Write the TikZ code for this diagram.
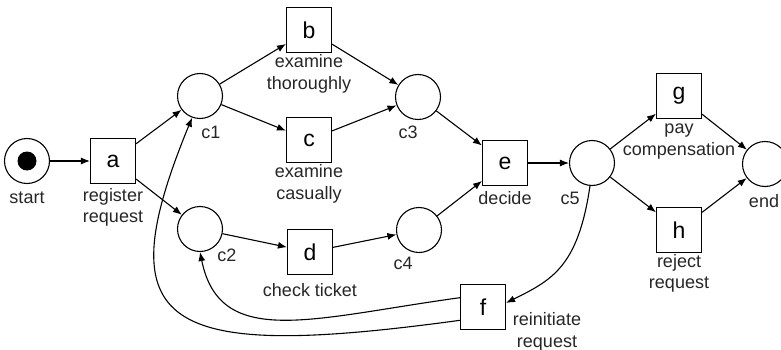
\documentclass[tikz,border=0pt]{standalone}
\usepackage{fontspec}
\setmainfont{Liberation Sans}
\usetikzlibrary{arrows.meta}
\begin{document}
\begin{tikzpicture}[x=1pt,y=-1pt,
  place/.style={circle,draw,line width=1.1pt,minimum size=45pt,inner sep=0pt},
  trans/.style={rectangle,draw,line width=1.1pt,minimum size=45pt,inner sep=0pt,
                font=\fontsize{23}{27}\selectfont},
  token/.style={circle,fill,minimum size=19pt,inner sep=0pt},
  lbl/.style={align=center,inner sep=0pt,text=black!85,font=\fontsize{18}{21.5}\selectfont},
  arc/.style={line width=1.1pt,-{Latex[length=9pt,width=7pt]}}]
\useasboundingbox (0,0) rectangle (781,350);

% places
\node[place] (start) at (27,161) {};
\node[token] (tok) at (start.center) {};
\node[place] (c1) at (200,96) {};
\node[place] (c2) at (200,229) {};
\node[place] (c3) at (418,97) {};
\node[place] (c4) at (419,230) {};
\node[place] (c5) at (592,163) {};
\node[place] (end) at (765,164) {};

% transitions
\node[trans] (a) at (113,161) {a};
\node[trans] (b) at (309,30) {b};
\node[trans] (c) at (309,140) {c};
\node[trans] (d) at (310,252) {d};
\node[trans] (e) at (505,163) {e};
\node[trans] (f) at (483,307) {f};
\node[trans] (g) at (679,96) {g};
\node[trans] (h) at (679,230) {h};

% labels
\node[lbl] (lstart) at (27,198) {start};
\node[lbl] (la) at (113,207.5) {register\\request};
\node[lbl] (lc1) at (211,132) {c1};
\node[lbl] (lb) at (309,74) {examine\\thoroughly};
\node[lbl] (lc) at (309,184) {examine\\casually};
\node[lbl] (lc2) at (227,255) {c2};
\node[lbl] (ld) at (310,290) {check ticket};
\node[lbl] (lc3) at (408,132) {c3};
\node[lbl] (lc4) at (403,263) {c4};
\node[lbl] (le) at (505,198) {decide};
\node[lbl] (lc5) at (570,198) {c5};
\node[lbl] (lf) at (547,332) {reinitiate\\request};
\node[lbl] (lg) at (679,141.5) {pay\\compensation};
\node[lbl] (lh) at (679,273.5) {reject\\request};
\node[lbl] (lend) at (764,201) {end};

% arcs
\draw[arc] (start) -- (a);
\draw[arc] (a) -- (c1);
\draw[arc] (a) -- (c2);
\draw[arc] (c1) -- (b);
\draw[arc] (c1) -- (c);
\draw[arc] (c2) -- (d);
\draw[arc] (b) -- (c3);
\draw[arc] (c) -- (c3);
\draw[arc] (d) -- (c4);
\draw[arc] (c3) -- (e);
\draw[arc] (c4) -- (e);
\draw[arc] (e) -- (c5);
\draw[arc] (c5) -- (g);
\draw[arc] (c5) -- (h);
\draw[arc] (g) -- (end);
\draw[arc] (h) -- (end);
\draw[arc] (c5.265) .. controls (578,267) and (552,280) .. (f.10);
\draw[arc] (f.158) .. controls (312,318) and (220,350) .. (c2.south);
\draw[arc] (f.210) .. controls (162,361) and (105,329) .. (c1.250);
\end{tikzpicture}
\end{document}
